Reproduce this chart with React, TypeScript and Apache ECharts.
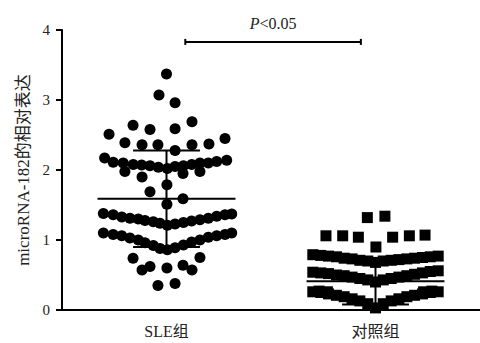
import React, { useEffect, useRef } from "react";
import * as echarts from "echarts";

const FONT = "'Liberation Serif', 'Times New Roman', 'Noto Sans CJK SC', serif";

const categories = ["SLE组", "对照组"];
const yAxisName = "microRNA-182的相对表达";

// SLE group: horizontal spread (category units) and relative expression
const sleOffsets = [
  0.0, -0.036, 0.041, 0.122, -0.16, -0.079, 0.041, -0.275, 0.28, -0.199, -0.117, -0.041, 0.041, 0.122, 0.203,
  -0.296, -0.255, -0.207, -0.159, -0.119, -0.079, -0.039, 0.004, 0.041, 0.081, 0.121, 0.16, 0.2, 0.24, 0.288,
  -0.199, -0.117, 0.079, 0.16,
  0.002, -0.079, 0.002, 0.079,
  -0.302, -0.255, -0.214, -0.175, -0.135, -0.103, -0.063, -0.031, 0.004, 0.041, 0.081, 0.12, 0.16, 0.2, 0.24, 0.28, 0.312,
  -0.302, -0.255, -0.214, -0.175, -0.135, -0.103, -0.063, -0.031, 0.004, 0.041, 0.081, 0.12, 0.16, 0.2, 0.24, 0.28, 0.312,
  -0.16, 0.16, -0.117, -0.079, 0.002, 0.079, 0.122, -0.041, 0.041,
];
const sleValues = [
  3.37, 3.07, 2.96, 2.69, 2.64, 2.58, 2.59, 2.51, 2.45, 2.39, 2.36, 2.36, 2.28, 2.36, 2.37,
  2.17, 2.11, 2.1, 2.08, 2.07, 2.06, 2.04, 2.02, 2.05, 2.06, 2.08, 2.1, 2.1, 2.12, 2.14,
  1.98, 1.9, 1.95, 1.98,
  1.79, 1.69, 1.51, 1.59,
  1.38, 1.36, 1.33, 1.31, 1.3, 1.28, 1.26, 1.24, 1.21, 1.23, 1.25, 1.27, 1.29, 1.31, 1.34, 1.36, 1.37,
  1.1, 1.08, 1.06, 1.03, 1.0, 0.96, 0.92, 0.88, 0.86, 0.89, 0.93, 0.97, 1.0, 1.04, 1.06, 1.08, 1.1,
  0.74, 0.75, 0.57, 0.62, 0.6, 0.64, 0.57, 0.35, 0.38,
];

// Control group
const ctrlOffsets = [
  -0.039, 0.045, -0.237, -0.157, -0.082, 0.002, 0.082, 0.162, 0.237,
  -0.3, -0.262, -0.225, -0.187, -0.15, -0.112, -0.075, -0.037, 0.0, 0.037, 0.075, 0.112, 0.15, 0.187, 0.225, 0.262, 0.3,
  -0.3, -0.262, -0.225, -0.187, -0.15, -0.112, -0.075, -0.037, 0.0, 0.037, 0.075, 0.112, 0.15, 0.187, 0.225, 0.262, 0.3,
  -0.3, -0.262, -0.225, -0.187, -0.15, -0.112, -0.075, -0.037, 0.0, 0.037, 0.075, 0.112, 0.15, 0.187, 0.225, 0.262, 0.3,
  -0.27, -0.23, 0.23, 0.27,
];
const ctrlValues = [
  1.32, 1.34, 1.06, 1.06, 1.04, 0.9, 1.04, 1.06, 1.07,
  0.79, 0.78, 0.77, 0.76, 0.74, 0.73, 0.71, 0.7, 0.68, 0.7, 0.71, 0.72, 0.73, 0.74, 0.75, 0.76, 0.77,
  0.54, 0.53, 0.52, 0.5, 0.49, 0.47, 0.45, 0.43, 0.4, 0.43, 0.45, 0.47, 0.49, 0.51, 0.53, 0.55, 0.56,
  0.26, 0.25, 0.23, 0.21, 0.19, 0.16, 0.13, 0.09, 0.03, 0.09, 0.13, 0.16, 0.19, 0.21, 0.23, 0.25, 0.26,
  0.27, 0.26, 0.26, 0.27,
];

const groupMeans = [1.59, 0.41];
const groupSDs = [0.69, 0.33];

const pLabel = "P<0.05";
const bracketFrom = 0.09;
const bracketTo = 0.93;
const bracketLevel = 3.83;

export default function App() {
  const ref = useRef<HTMLDivElement>(null);
  useEffect(() => {
    document.body.style.margin = "0";
    if (!ref.current) return;
    const chart = echarts.init(ref.current, undefined, { renderer: "svg" });
    const sleData = sleValues.map((v, i) => [0 + sleOffsets[i], v]);
    const ctrlData = ctrlValues.map((v, i) => [1 + ctrlOffsets[i], v]);
    const stats = groupMeans.map((m, i) => [i, m, groupSDs[i]]);
    const line = (a: number[], b: number[]) => ({
      type: "line",
      shape: { x1: a[0], y1: a[1], x2: b[0], y2: b[1] },
      style: { stroke: "#000", lineWidth: 2 },
    });
    const option: any = {
      animation: false,
      backgroundColor: "#fff",
      grid: { left: 62, right: 0, top: 30, bottom: 33 },
      xAxis: [
        {
          type: "category",
          data: categories,
          boundaryGap: true,
          axisLine: { lineStyle: { color: "#000", width: 2 } },
          axisTick: { alignWithLabel: true, length: 7, lineStyle: { color: "#000", width: 2 } },
          axisLabel: { color: "#222", fontSize: 16, fontFamily: FONT, margin: 13 },
        },
        { type: "value", min: -0.5, max: 1.5, show: false },
      ],
      yAxis: {
        type: "value",
        min: 0,
        max: 4,
        interval: 1,
        name: yAxisName,
        nameLocation: "middle",
        nameGap: 24,
        nameTextStyle: { color: "#222", fontSize: 17, fontFamily: FONT },
        axisLine: { show: true, onZero: false, lineStyle: { color: "#000", width: 2 } },
        axisTick: { show: true, length: 6, lineStyle: { color: "#000", width: 2 } },
        axisLabel: { color: "#222", fontSize: 15, fontFamily: FONT, margin: 12 },
        splitLine: { show: false },
      },
      series: [
        {
          type: "scatter",
          xAxisIndex: 1,
          data: sleData,
          symbol: "circle",
          symbolSize: 11,
          itemStyle: { color: "#000", opacity: 1 },
        },
        {
          type: "scatter",
          xAxisIndex: 1,
          data: ctrlData,
          symbol: "rect",
          symbolSize: 11,
          itemStyle: { color: "#000", opacity: 1 },
        },
        {
          type: "custom",
          xAxisIndex: 1,
          z: 5,
          data: stats,
          renderItem: (params: any, api: any) => {
            const g = api.value(0);
            const m = api.value(1);
            const s = api.value(2);
            const wide = 0.33;
            const cap = 0.16;
            return {
              type: "group",
              children: [
                line(api.coord([g - wide, m]), api.coord([g + wide, m])),
                line(api.coord([g, m - s]), api.coord([g, m + s])),
                line(api.coord([g - cap, m + s]), api.coord([g + cap, m + s])),
                line(api.coord([g - cap, m - s]), api.coord([g + cap, m - s])),
              ],
            };
          },
        },
        {
          type: "custom",
          xAxisIndex: 1,
          clip: false,
          data: [[bracketFrom, bracketTo, bracketLevel]],
          renderItem: (params: any, api: any) => {
            const a = api.coord([api.value(0), api.value(2)]);
            const b = api.coord([api.value(1), api.value(2)]);
            return {
              type: "group",
              children: [
                line(a, b),
                line([a[0], a[1] - 3], [a[0], a[1] + 3]),
                line([b[0], b[1] - 3], [b[0], b[1] + 3]),
                {
                  type: "text",
                  x: (a[0] + b[0]) / 2,
                  y: a[1] - 10,
                  style: {
                    text: "{i|" + pLabel.slice(0, 1) + "}" + pLabel.slice(1),
                    fill: "#222",
                    font: "16px " + FONT,
                    align: "center",
                    verticalAlign: "bottom",
                    rich: { i: { fontStyle: "italic", fontSize: 16, fontFamily: FONT, fill: "#222" } },
                  },
                },
              ],
            };
          },
        },
      ],
    };
    chart.setOption(option);
    return () => chart.dispose();
  }, []);
  return <div ref={ref} style={{ width: 480, height: 343 }} />;
}
